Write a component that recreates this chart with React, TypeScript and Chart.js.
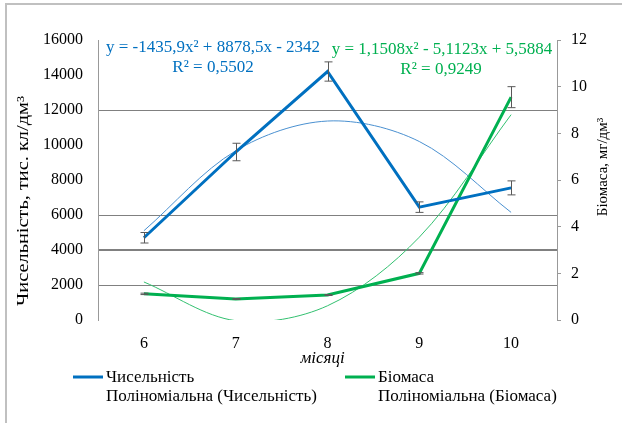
import { useEffect, useRef } from 'react';
import { Chart, registerables } from 'chart.js';

Chart.register(...registerables);

const MONTHS = ['6', '7', '8', '9', '10'];
const COUNT = [4700, 9600, 14200, 6450, 7550];
const COUNT_ERR = [300, 500, 550, 300, 400];
const BIOMASS = [1.12, 0.9, 1.07, 2.0, 9.55];
const BIOMASS_ERR = [0.03, 0.02, 0.02, 0.03, 0.45];
const COUNT_TREND = [5100, 9670, 11370, 10200, 6150];
const BIOMASS_TREND = [1.63, -0.03, 0.61, 3.55, 8.8];
const LEFT_GRID = [2000, 4000, 6000, 12000];
const LEFT_TICK_STEP = 2000;
const RIGHT_TICK_STEP = 2;
const COUNT_EQ = ['y = -1435,9x² + 8878,5x - 2342', 'R² = 0,5502'];
const BIOMASS_EQ = ['y = 1,1508x² - 5,1123x + 5,5884', 'R² = 0,9249'];
const SERIES_NAMES = ['Чисельність', 'Біомаса'];
const TREND_NAMES = ['Поліноміальна (Чисельність)', 'Поліноміальна (Біомаса)'];
const Y_TITLE = 'Чисельність, тис. кл/дм³';
const Y1_TITLE = 'Біомаса, мг/дм³';
const X_TITLE = 'місяці';

const BLUE = '#0070C0';
const GREEN = '#00B050';
const FONT = "'Liberation Serif', serif";

export default function App() {
  const ref = useRef<HTMLCanvasElement>(null);
  useEffect(() => {
    document.body.style.margin = '0';
    let chart: any = null;
    let cancelled = false;
    const errorBars = {
      id: 'errorBars',
      afterDatasetsDraw(ch: any) {
        const c = ch.ctx;
        const xs = ch.scales.x;
        const sets: [number[], number[], any][] = [
          [COUNT, COUNT_ERR, ch.scales.y],
          [BIOMASS, BIOMASS_ERR, ch.scales.y1],
        ];
        c.save();
        c.strokeStyle = '#595959';
        c.lineWidth = 1;
        sets.forEach(([vals, errs, ys]) => {
          vals.forEach((v, i) => {
            const x = Math.round(xs.getPixelForValue(i)) + 0.5;
            const y1 = ys.getPixelForValue(v + errs[i]);
            const y2 = ys.getPixelForValue(v - errs[i]);
            c.beginPath();
            c.moveTo(x, y1);
            c.lineTo(x, y2);
            c.moveTo(x - 4, y1);
            c.lineTo(x + 4, y1);
            c.moveTo(x - 4, y2);
            c.lineTo(x + 4, y2);
            c.stroke();
          });
        });
        c.restore();
      },
    };
    const decor = {
      id: 'decor',
      afterDraw(ch: any) {
        const c = ch.ctx;
        const a = ch.chartArea;
        c.save();
        c.strokeStyle = '#C0C0C0';
        c.lineWidth = 2;
        c.strokeRect(6, 4, 700, 500);
        c.font = `17px ${FONT}`;
        c.textAlign = 'center';
        c.textBaseline = 'middle';
        c.fillStyle = BLUE;
        c.fillText(COUNT_EQ[0], a.left + 115, a.top + 8);
        c.fillText(COUNT_EQ[1], a.left + 115, a.top + 28);
        c.fillStyle = GREEN;
        c.fillText(BIOMASS_EQ[0], a.left + 344, a.top + 10);
        c.fillText(BIOMASS_EQ[1], a.left + 343, a.top + 30);
        // axis titles
        c.fillStyle = '#000';
        c.save();
        c.font = `16px ${FONT}`;
        const w = c.measureText(Y_TITLE).width;
        c.translate(24, a.top + 161);
        c.rotate(-Math.PI / 2);
        c.scale(210 / w, 1);
        c.fillText(Y_TITLE, 0, 0);
        c.restore();
        c.save();
        c.font = `15px ${FONT}`;
        c.translate(603, a.top + 127);
        c.rotate(-Math.PI / 2);
        c.fillText(Y1_TITLE, 0, 0);
        c.restore();
        c.font = `italic 17px ${FONT}`;
        c.fillText(X_TITLE, (a.left + a.right) / 2 - 5, a.bottom + 39);
        // legend
        c.font = `17px ${FONT}`;
        c.textAlign = 'left';
        const rowY = a.bottom + 57;
        const cols = [
          [73, BLUE],
          [345, GREEN],
        ] as [number, string][];
        cols.forEach(([x, col], i) => {
          c.strokeStyle = col;
          c.lineWidth = 3;
          c.beginPath();
          c.moveTo(x, rowY);
          c.lineTo(x + 30, rowY);
          c.stroke();
          c.fillText(SERIES_NAMES[i], x + 33, rowY + 1);
          c.fillText(TREND_NAMES[i], x + 33, rowY + 20);
        });
        c.restore();
      },
    };
    const build = () => {
      if (cancelled || !ref.current) return;
      chart = new Chart(ref.current, {
        type: 'line',
        data: {
          labels: MONTHS,
          datasets: [
            { label: SERIES_NAMES[0], data: COUNT, borderColor: BLUE, borderWidth: 3, pointRadius: 0, yAxisID: 'y', order: 1 },
            { label: SERIES_NAMES[1], data: BIOMASS, borderColor: GREEN, borderWidth: 3, pointRadius: 0, yAxisID: 'y1', order: 1 },
            { label: TREND_NAMES[0], data: COUNT_TREND, borderColor: '#4A90D0', borderWidth: 1, pointRadius: 0, tension: 0.33, yAxisID: 'y', order: 2 },
            { label: TREND_NAMES[1], data: BIOMASS_TREND, borderColor: '#33C070', borderWidth: 1, pointRadius: 0, tension: 0.33, yAxisID: 'y1', order: 2 },
          ],
        },
        options: {
          responsive: false,
          animation: false,
          layout: { padding: { top: 40, left: 0, right: 0, bottom: 53 } },
          plugins: { legend: { display: false }, tooltip: { enabled: false } },
          scales: {
            x: {
              offset: true,
              border: { display: false },
              grid: { display: false },
              ticks: { color: '#000', font: { family: FONT, size: 16 }, padding: 6 },
              afterFit(s: any) {
                s.height = 50;
              },
            },
            y: {
              position: 'left',
              min: 0,
              max: 16000,
              border: { display: true, color: '#999', width: 1 },
              grid: {
                drawTicks: false,
                color: (ctx: any) =>
                  ctx.tick && LEFT_GRID.includes(ctx.tick.value) ? '#808080' : 'rgba(0,0,0,0)',
                lineWidth: (ctx: any) => (ctx.tick && ctx.tick.value === 4000 ? 2 : 1),
              },
              ticks: {
                stepSize: LEFT_TICK_STEP,
                color: '#000',
                font: { family: FONT, size: 16 },
                padding: 15,
                callback: (v: any) => String(v),
              },
              afterFit(s: any) {
                s.width = 98;
              },
            },
            y1: {
              position: 'right',
              min: 0,
              max: 12,
              border: { display: true, color: '#999', width: 1 },
              grid: { drawOnChartArea: false, drawTicks: true, tickLength: 4, color: '#999' },
              ticks: {
                stepSize: RIGHT_TICK_STEP,
                color: '#000',
                font: { family: FONT, size: 16 },
                padding: 10,
                callback: (v: any) => String(v),
              },
              afterFit(s: any) {
                s.width = 65;
              },
            },
          },
        },
        plugins: [errorBars, decor],
      } as any);
    };
    const fonts: any = (document as any).fonts;
    if (fonts && fonts.load) {
      Promise.all([
        fonts.load(`15px 'Liberation Serif'`),
        fonts.load(`italic 15px 'Liberation Serif'`),
      ]).then(build, build);
    } else {
      build();
    }
    return () => {
      cancelled = true;
      if (chart) chart.destroy();
    };
  }, []);
  return <canvas ref={ref} width={622} height={423} style={{ display: 'block' }} />;
}
